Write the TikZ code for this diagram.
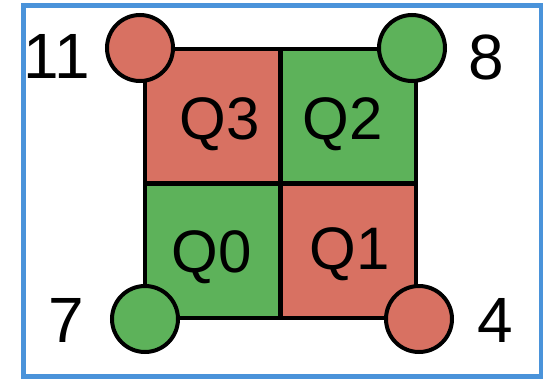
\documentclass[tikz,border=0pt]{standalone}
\usepackage{fontspec}
\setmainfont{Liberation Sans}
\definecolor{cred}{HTML}{D87162}
\definecolor{cgreen}{HTML}{5DB25A}
\definecolor{cblue}{HTML}{4A93DA}
\begin{document}
\begin{tikzpicture}[x=1pt,y=-1pt,
  cell/.style={draw=black,line width=4pt,minimum width=135pt,minimum height=134pt,inner sep=0pt,rectangle},
  dot/.style={draw=black,line width=4pt,circle,minimum size=66pt,inner sep=0pt},
  qlab/.style={font=\fontsize{60}{60}\selectfont,anchor=base,inner sep=0pt},
  nlab/.style={font=\fontsize{64}{64}\selectfont,anchor=base,inner sep=0pt}]
\useasboundingbox (0,0) rectangle (543,380);
\draw[cblue,line width=5pt] (23.5,5.5) rectangle (541,376.5);
% cells
\node[cell,fill=cred]   (c3) at (212.5,116) {};
\node[cell,fill=cgreen] (c2) at (348,116) {};
\node[cell,fill=cgreen] (c0) at (212.5,250.5) {};
\node[cell,fill=cred]   (c1) at (348,250.5) {};
% labels
\node[qlab] (q3) at (220,139) {Q3};
\node[qlab] (q2) at (343,139) {Q2};
\node[qlab] (q0) at (212,272) {Q0};
\node[qlab] (q1) at (350,269) {Q1};
% corner circles
\node[dot,fill=cred]   (k11) at (140,48) {};
\node[dot,fill=cgreen] (k8)  at (412,48) {};
\node[dot,fill=cgreen] (k7)  at (145,319) {};
\node[dot,fill=cred]   (k4)  at (419,319) {};
% numbers
\node[nlab] (n11) at (57,78) {11};
\node[nlab] (n8)  at (486,79) {8};
\node[nlab] (n7)  at (66,342) {7};
\node[nlab] (n4)  at (495,342) {4};
\end{tikzpicture}
\end{document}
